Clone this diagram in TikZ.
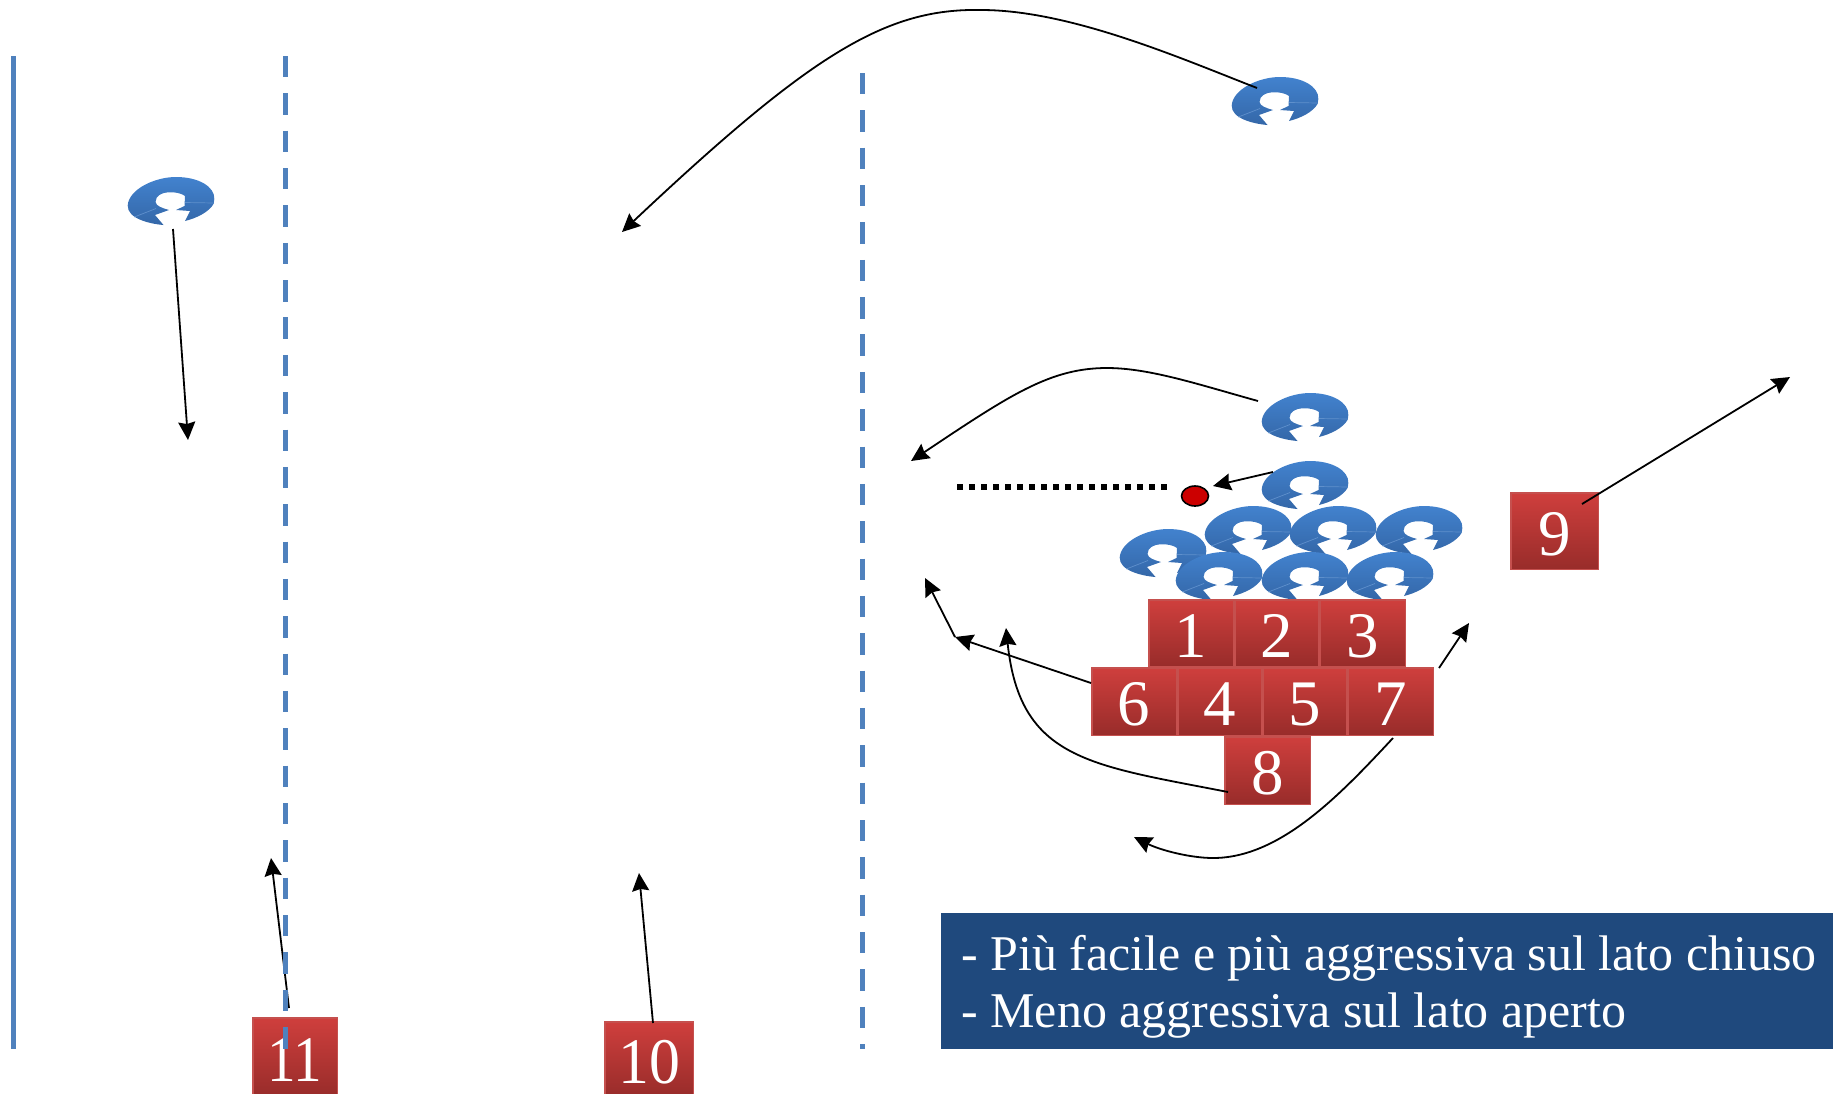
\documentclass[tikz,border=0pt]{standalone}
\usepackage{fontspec}
\setmainfont{Liberation Serif}
\usetikzlibrary{arrows.meta,shapes.geometric}
\definecolor{lineblue}{HTML}{4F81BD}
\definecolor{boxtop}{HTML}{CF3F3D}
\definecolor{boxbot}{HTML}{982C2A}
\definecolor{boxedge}{HTML}{C5504E}
\definecolor{navy}{HTML}{1F497D}
\definecolor{helmtop}{HTML}{4282CE}
\definecolor{helmbot}{HTML}{3467A8}
\definecolor{seam}{HTML}{5F90CC}
\definecolor{ballred}{HTML}{CC0000}
\tikzset{
  helmet/.pic={
    \shade[top color=helmtop,bottom color=helmbot]
      (-7.5,24) .. controls (-20,23) and (-44,18) .. (-43.3,4.3)
      .. controls (-42,-12) and (-16,-24) .. (5,-24)
      .. controls (28,-24) and (44,-14) .. (43.3,-2) -- (42.7,2.7)
      .. controls (38,11) and (26,17) .. (14,20)
      -- (19,10) -- (5,9) -- (13.5,5) -- (14,-5)
      .. controls (8,-10) and (-15,-12) .. (-15.5,1)
      .. controls (-15,5) and (-9,7) .. (-2,9)
      -- (-16,14) -- cycle;
    \draw[seam,line width=.7pt] (-36.7,16) -- (-15,7.5) (14,1.5) -- (42.7,2);
  },
  numbox/.style={rectangle,draw=boxedge,line width=1.5pt,top color=boxtop,bottom color=boxbot,
    text=white,inner sep=0pt,font=\fontsize{65}{65}\selectfont,text height=48pt,text depth=0pt},
  guideline/.style={lineblue,line width=5pt},
  guidedash/.style={guideline,dash pattern=on 21.4pt off 15.95pt},
  play/.style={black,line width=1.8pt,-{Stealth[inset=2pt,length=18pt,width=17pt]}},
  ballstyle/.style={ellipse,draw=black,line width=1.6pt,fill=ballred,minimum width=27pt,minimum height=20pt,inner sep=0pt}
}
\begin{document}
\begin{tikzpicture}[x=1pt,y=-1pt]
\useasboundingbox (0,0) rectangle (1833,1093);
% helmets
\pic at (171,201) {helmet};
\pic at (1275,101) {helmet};
\pic at (1305,417) {helmet};
\pic at (1305,485) {helmet};
\pic at (1248,530) {helmet};
\pic at (1333,530) {helmet};
\pic at (1419,530) {helmet};
\pic at (1163,553) {helmet};
\pic at (1219,576) {helmet};
\pic at (1305,576) {helmet};
\pic at (1390,576) {helmet};
% boxes
\node[numbox,minimum width=84.5pt,minimum height=66.5pt] (n1) at (1191,633) {1};
\node[numbox,minimum width=83.5pt,minimum height=66.5pt] (n2) at (1276.5,633) {2};
\node[numbox,minimum width=85.5pt,minimum height=66.5pt] (n3) at (1362.5,633) {3};
\node[numbox,minimum width=84.5pt,minimum height=67.5pt] (n6) at (1134,701.5) {6};
\node[numbox,minimum width=83.5pt,minimum height=67.5pt] (n4) at (1219.5,701.5) {4};
\node[numbox,minimum width=83.5pt,minimum height=67.5pt] (n5) at (1304.5,701.5) {5};
\node[numbox,minimum width=85.5pt,minimum height=67.5pt] (n7) at (1390.5,701.5) {7};
\node[numbox,minimum width=85.5pt,minimum height=67.5pt] (n8) at (1267.5,770.5) {8};
\node[numbox,minimum width=87.5pt,minimum height=76.5pt] (n9) at (1554.5,531) {9};
\node[numbox,minimum width=88.5pt,minimum height=74.5pt] (n10) at (649,1059) {\scalebox{.95}[1]{10}};
\node[numbox,minimum width=84.5pt,minimum height=78.5pt] (n11) at (295,1057) {\scalebox{.88}[1]{11}};
% ball
\node[ballstyle] (ball) at (1195,496) {};
% text panel
\node[rectangle,fill=navy,minimum width=892pt,minimum height=136pt,inner sep=0pt] (panel) at (1387,981) {};
\node[anchor=base west,inner sep=0pt,text=white,align=left,font=\fontsize{50}{57}\selectfont] (caption) at (961,1027)
  {- Più facile e più aggressiva sul lato chiuso\\- Meno aggressiva sul lato aperto};
% free ends
\coordinate (topS) at (1257,88);
\coordinate (topE) at (622,232);
\coordinate (h1S) at (173,229);
\coordinate (h1E) at (188,440);
\coordinate (h3S) at (1258,401);
\coordinate (h3E) at (911,461);
\coordinate (h4S) at (1273,472);
\coordinate (h4E) at (1213,486);
\coordinate (dotS) at (957,487);
\coordinate (dotE) at (1167,487);
\coordinate (s6) at (1091,683);
\coordinate (knee) at (955,637);
\coordinate (kneeE) at (925,578);
\coordinate (s8) at (1228,792);
\coordinate (e8) at (1006,628);
\coordinate (s7) at (1393,738);
\coordinate (e7) at (1134,837);
\coordinate (r7S) at (1439,668);
\coordinate (r7E) at (1469,623);
\coordinate (s9) at (1582,504);
\coordinate (e9) at (1790,377);
\coordinate (s10) at (653,1023);
\coordinate (e10) at (639,873);
\coordinate (s11) at (289,1008);
\coordinate (e11) at (271,858);
% connectors
\draw[play] (topS) .. controls (1180,58) and (1070,10) .. (981,10)
  .. controls (885,8) and (810,55) .. (topE);
\draw[play] (h1S) -- (h1E);
\draw[play] (h3S) .. controls (1200,385) and (1150,368) .. (1107,368)
  .. controls (1050,368) and (1010,395) .. (h3E);
\draw[play] (h4S) -- (h4E);
\draw[black,line width=6pt,dash pattern=on 6pt off 6pt] (dotS) -- (dotE);
\draw[play] (s6) -- (knee);
\draw[play] (knee) -- (kneeE);
\draw[play] (s8) .. controls (1090,765) and (1020,760) .. (e8);
\draw[play] (s7) .. controls (1340,795) and (1280,858) .. (1213,858)
  .. controls (1190,858) and (1160,850) .. (e7);
\draw[play] (r7S) -- (r7E);
\draw[play] (s9) -- (e9);
\draw[play] (s10) -- (e10);
\draw[play] (s11) -- (e11);
% field lines
\coordinate (sideT) at (13,56);
\coordinate (sideB) at (13,1049);
\coordinate (leftT) at (285,56);
\coordinate (leftB) at (285,1049);
\coordinate (rightT) at (862,73);
\coordinate (rightB) at (862,1049);
\draw[guideline] (sideT) -- (sideB);
\draw[guidedash] (leftT) -- (leftB);
\draw[guidedash] (rightT) -- (rightB);
\end{tikzpicture}
\end{document}
